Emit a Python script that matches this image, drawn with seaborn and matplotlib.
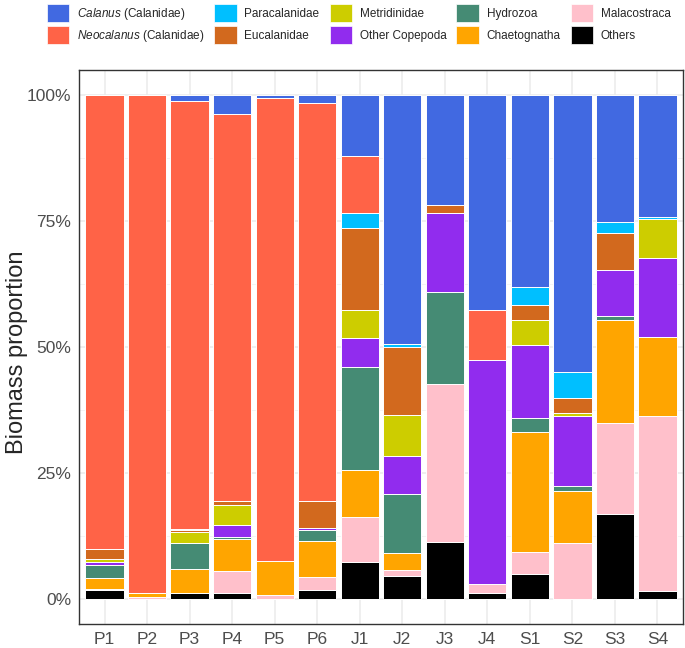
import numpy as np
import pandas as pd
import matplotlib
matplotlib.use("Agg")
import matplotlib.pyplot as plt
import seaborn as sns
from matplotlib.patches import Patch
from matplotlib.ticker import FixedLocator, PercentFormatter

# Samples and taxa (stack order: bottom -> top)
samples = ["P1", "P2", "P3", "P4", "P5", "P6", "J1", "J2", "J3", "J4",
           "S1", "S2", "S3", "S4"]

others         = [1.7, 0.0, 1.1, 1.2, 0.0, 1.8, 7.4, 4.55, 11.35, 1.1, 4.95, 0.0, 16.8, 1.5]
malacostraca   = [0.2, 0.3, 0.1, 4.4, 0.7, 2.6, 8.85, 1.2, 31.35, 1.8, 4.4, 11.05, 18.2, 34.85]
chaetognatha   = [2.3, 0.8, 4.7, 6.25, 6.8, 7.0, 9.25, 3.4, 0.0, 0.0, 23.85, 10.3, 20.35, 15.65]
hydrozoa       = [2.5, 0.0, 5.2, 0.45, 0.0, 2.3, 20.5, 11.75, 18.25, 0.0, 2.7, 1.15, 0.9, 0.0]
other_copepoda = [0.7, 0.0, 0.0, 2.3, 0.0, 0.4, 5.8, 7.45, 15.6, 44.5, 14.5, 13.8, 9.1, 15.65]
metridinidae   = [0.6, 0.0, 2.1, 3.95, 0.0, 0.0, 5.55, 8.05, 0.0, 0.0, 5.0, 0.6, 0.0, 7.85]
eucalanidae    = [1.9, 0.0, 0.4, 0.95, 0.0, 5.4, 16.3, 13.6, 1.65, 0.0, 2.9, 3.0, 7.2, 0.0]
paracalanidae  = [0.0, 0.0, 0.2, 0.0, 0.0, 0.0, 3.0, 0.5, 0.0, 0.0, 3.7, 5.1, 2.35, 0.4]
neocalanus     = [90.1, 98.9, 85.0, 76.7, 91.9, 78.9, 11.25, 0.0, 0.0, 10.0, 0.0, 0.0, 0.0, 0.0]
calanus        = [0.0, 0.0, 1.2, 3.8, 0.6, 1.6, 12.1, 49.5, 21.8, 42.6, 38.0, 55.0, 25.1, 24.1]

taxa = ["Others", "Malacostraca", "Chaetognatha", "Hydrozoa", "Other Copepoda",
        "Metridinidae", "Eucalanidae", "Paracalanidae", "Neocalanus", "Calanus"]
values = [others, malacostraca, chaetognatha, hydrozoa, other_copepoda,
          metridinidae, eucalanidae, paracalanidae, neocalanus, calanus]
palette = {
    "Calanus": "#4169E1",
    "Neocalanus": "#FF6347",
    "Paracalanidae": "#00BFFF",
    "Eucalanidae": "#D2691E",
    "Metridinidae": "#CDCD00",
    "Other Copepoda": "#912CEE",
    "Hydrozoa": "#458B74",
    "Chaetognatha": "#FFA500",
    "Malacostraca": "#FFC0CB",
    "Others": "#000000",
}
legend_labels = {
    "Calanus": r"$\mathit{Calanus}$ (Calanidae)",
    "Neocalanus": r"$\mathit{Neocalanus}$ (Calanidae)",
}

df = pd.DataFrame(dict(zip(taxa, values)), index=samples)
df = df.div(df.sum(axis=1), axis=0)  # position = "fill"

sns.set_style("white")
plt.rcParams["font.family"] = ["Liberation Sans", "DejaVu Sans"]
plt.rcParams["mathtext.fontset"] = "custom"
plt.rcParams["mathtext.it"] = "Liberation Sans:italic"
plt.rcParams["mathtext.rm"] = "Liberation Sans"

fig = plt.figure(figsize=(6.85, 6.48), dpi=100)
ax = fig.add_axes([79 / 685, 24 / 648, 604 / 685, 554 / 648])

# Stacked bars
bottom = np.zeros(len(samples))
for taxon in taxa:
    sns.barplot(x=samples, y=df[taxon].values, bottom=bottom, color=palette[taxon],
                width=0.9, edgecolor="white", linewidth=0.7, errorbar=None,
                saturation=1, ax=ax)
    bottom += df[taxon].values

# Axes styling (ggplot theme_bw look)
ax.set_xlim(-0.6, len(samples) - 0.4)
ax.set_ylim(-0.05, 1.05)
ax.yaxis.set_major_locator(FixedLocator([0, 0.25, 0.5, 0.75, 1.0]))
ax.yaxis.set_minor_locator(FixedLocator([0.125, 0.375, 0.625, 0.875]))
ax.yaxis.set_major_formatter(PercentFormatter(1.0, decimals=0))
ax.set_axisbelow(True)
ax.grid(True, which="major", color="#EBEBEB", linewidth=1.1)
ax.grid(True, which="minor", axis="y", color="#F3F3F3", linewidth=0.6)
for s in ax.spines.values():
    s.set_color("#333333")
    s.set_linewidth(1.0)
ax.tick_params(axis="both", which="major", length=4, width=1, color="#333333",
               labelsize=12.5, labelcolor="#4D4D4D", pad=1.5)
ax.tick_params(axis="y", which="minor", length=0)
ax.set_xlabel("")
ax.set_ylabel("Biomass proportion", fontsize=17)
ax.yaxis.set_label_coords(-51 / 604, 0.49)

# Legend on top
order = ["Calanus", "Neocalanus", "Paracalanidae", "Eucalanidae", "Metridinidae",
         "Other Copepoda", "Hydrozoa", "Chaetognatha", "Malacostraca", "Others"]
handles = [Patch(facecolor=palette[t], edgecolor="white", linewidth=0.5) for t in order]
labels = [legend_labels.get(t, t) for t in order]
fig.legend(handles, labels, ncol=5, loc="upper left", bbox_to_anchor=(41 / 685, 1 + 2 / 648),
           frameon=False, fontsize=8.5, handlelength=1.9, handleheight=2.0,
           handletextpad=0.65, columnspacing=0.85, labelspacing=0.3, borderpad=0)

fig.savefig("out.png", dpi=100)
